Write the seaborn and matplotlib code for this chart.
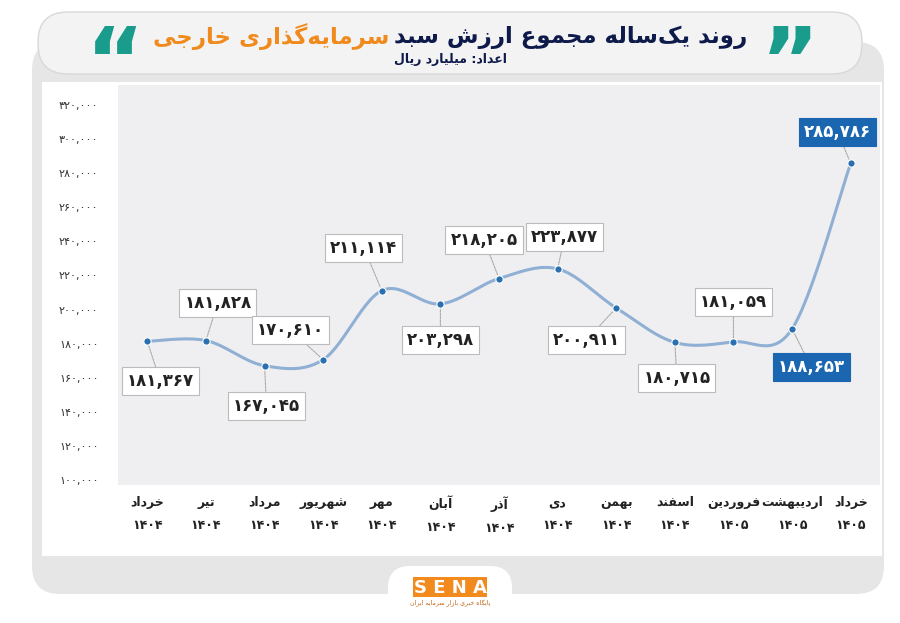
import unicodedata
import numpy as np
import pandas as pd
import matplotlib
matplotlib.use("Agg")
import matplotlib.pyplot as plt
from matplotlib.patches import FancyBboxPatch, Rectangle
import seaborn as sns

months = ["خرداد", "تیر", "مرداد", "شهریور", "مهر", "آبان", "آذر", "دی",
          "بهمن", "اسفند", "فروردین", "اردیبهشت", "خرداد"]
years = ["1404"] * 10 + ["1405"] * 3
values = [181367, 181828, 167045, 170610, 211114, 203298, 218205, 223877,
          200911, 180715, 181059, 188653, 285786]
yticks = list(range(100000, 320001, 20000))
title_main = "روند یک‌ساله مجموع ارزش سبد"
title_accent = "سرمایه‌گذاری خارجی"
subtitle = "اعداد: میلیارد ریال"

# label offsets in pixels (dx, dy down) and highlight flags
offsets = [(13, 40), (12, -38), (2, 40), (-33, -30), (-18, -43), (0, 36), (-15, -39),
           (7, -32), (-30, 32), (2, 36), (0, -40), (19, 38), (-13, -31)]
highlight = [False] * 11 + [True, True]

NOJOIN = set("اآأإدذرزژوؤة")


def form(ch, kind):
    try:
        return unicodedata.lookup(unicodedata.name(ch) + " " + kind + " FORM")
    except KeyError:
        return ch


def is_ar(ch):
    return ch != "" and "ARABIC" in unicodedata.name(ch, "") and ch != "\u200c"


def shape(text):
    out = []
    chars = list(text)
    for i, ch in enumerate(chars):
        if not is_ar(ch):
            out.append(ch)
            continue
        prev = chars[i - 1] if i > 0 else ""
        nxt = chars[i + 1] if i + 1 < len(chars) else ""
        jp = is_ar(prev) and prev not in NOJOIN
        jn = is_ar(nxt) and ch not in NOJOIN
        if jp and jn:
            k = "MEDIAL"
        elif jp:
            k = "FINAL"
        elif jn:
            k = "INITIAL"
        else:
            k = "ISOLATED"
        out.append(form(ch, k))
    return "".join(c for c in out if c != "\u200c")[::-1]


def fa_digits(s):
    return s.translate(str.maketrans("0123456789", "۰۱۲۳۴۵۶۷۸۹"))


def fmt(v):
    return fa_digits(f"{v:,}")


sns.set_theme(style="white")
plt.rcParams["font.family"] = ["DejaVu Sans"]

W, H = 900, 623
fig = plt.figure(figsize=(9, 6.23), dpi=100)
fig.patch.set_facecolor("white")


def px(x, y):
    return x / W, 1 - y / H


bg = fig.add_axes([0, 0, 1, 1])
bg.set_xlim(0, W)
bg.set_ylim(H, 0)
bg.axis("off")
bg.add_patch(FancyBboxPatch((32, 42), 852, 552, boxstyle="round,pad=0,rounding_size=28",
                            fc="#e6e6e7", ec="none"))
bg.add_patch(FancyBboxPatch((38, 12), 824, 62, boxstyle="round,pad=0,rounding_size=30",
                            fc="#f3f3f4", ec="#d8d8d8", lw=1))
bg.add_patch(Rectangle((42, 82), 840, 474, fc="white", ec="none"))
bg.add_patch(FancyBboxPatch((388, 566), 124, 50, boxstyle="round,pad=0,rounding_size=22",
                            fc="white", ec="none"))
bg.add_patch(Rectangle((413, 577), 74, 20, fc="#f28a1e", ec="none"))
bg.text(450, 588, "S E N A", color="white", fontsize=13, fontweight="bold", ha="center", va="center")
bg.text(450, 603, shape("پایگاه خبری بازار سرمایه ایران"), color="#c06010", fontsize=4.5,
        ha="center", va="center")
bg.text(389, 37, shape(title_accent), color="#f08a1c", fontsize=16.5, fontweight="bold",
        ha="right", va="center")
bg.text(394, 37, shape(title_main), color="#0e1a4a", fontsize=16.5, fontweight="bold",
        ha="left", va="center")
bg.text(450, 59, shape(subtitle), color="#0e1a4a", fontsize=9, fontweight="bold",
        ha="center", va="center")
bg.text(115, 66, "\u201c", color="#1a9c8c", fontsize=64, fontweight="bold", ha="center", va="center")
bg.text(790, 66, "\u201d", color="#1a9c8c", fontsize=64, fontweight="bold", ha="center", va="center")

l, b = px(118, 485)
r, t = px(880, 85)
ax = fig.add_axes([l, b, r - l, t - b])
ax.set_facecolor("#efeff1")
for s in ax.spines.values():
    s.set_visible(False)
ax.set_xlim(-0.5, 12.5)
ax.set_ylim(97100, 331700)

# smooth curve through the data points (Catmull-Rom)
xs = np.arange(len(values), dtype=float)
ys = np.array(values, dtype=float)
px_pts = np.concatenate([[xs[0]], xs, [xs[-1]]])
py_pts = np.concatenate([[ys[0]], ys, [ys[-1]]])
cx, cy = [], []
tt = np.linspace(0, 1, 30)
for i in range(1, len(px_pts) - 2):
    p0, p1, p2, p3 = [np.array([px_pts[j], py_pts[j]]) for j in range(i - 1, i + 3)]
    for tv in tt:
        pt = 0.5 * ((2 * p1) + (-p0 + p2) * tv + (2 * p0 - 5 * p1 + 4 * p2 - p3) * tv ** 2
                    + (-p0 + 3 * p1 - 3 * p2 + p3) * tv ** 3)
        cx.append(pt[0])
        cy.append(pt[1])
curve = pd.DataFrame({"x": cx, "y": cy})
sns.lineplot(data=curve, x="x", y="y", ax=ax, color="#8fb0d4", lw=2.2, sort=False)
df = pd.DataFrame({"x": xs, "y": ys})
sns.scatterplot(data=df, x="x", y="y", ax=ax, color="#2a6fb0", s=28, edgecolor="white",
                linewidth=0.8, zorder=5)

for i, v in enumerate(values):
    dx, dy = offsets[i]
    hl = highlight[i]
    ax.annotate(fmt(v), (i, v), xytext=(dx * 0.72, -dy * 0.72), textcoords="offset points",
                ha="center", va="center", fontsize=12, fontweight="bold",
                color="white" if hl else "#222222",
                bbox=dict(boxstyle="square,pad=0.3", fc="#1a66b0" if hl else "white",
                          ec="#1a66b0" if hl else "#bbbbbb", lw=0.8),
                arrowprops=dict(arrowstyle="-", color="#aaaaaa", lw=0.8, ls=(0, (2, 1)),
                                shrinkA=0, shrinkB=3))

ax.set_yticks(yticks)
ax.set_yticklabels([fmt(v) for v in yticks], fontsize=8, color="#333333")
ax.tick_params(axis="y", length=0, pad=14)
ax.set_xticks(range(len(months)))
ax.set_xticklabels([shape(m) + "\n" + fa_digits(y) for m, y in zip(months, years)],
                   fontsize=9, fontweight="bold", color="#222222", linespacing=2.0)
ax.tick_params(axis="x", length=0, pad=8)
ax.set_xlabel("")
ax.set_ylabel("")
ax.grid(False)

fig.savefig("out.png", dpi=100, facecolor="white")
